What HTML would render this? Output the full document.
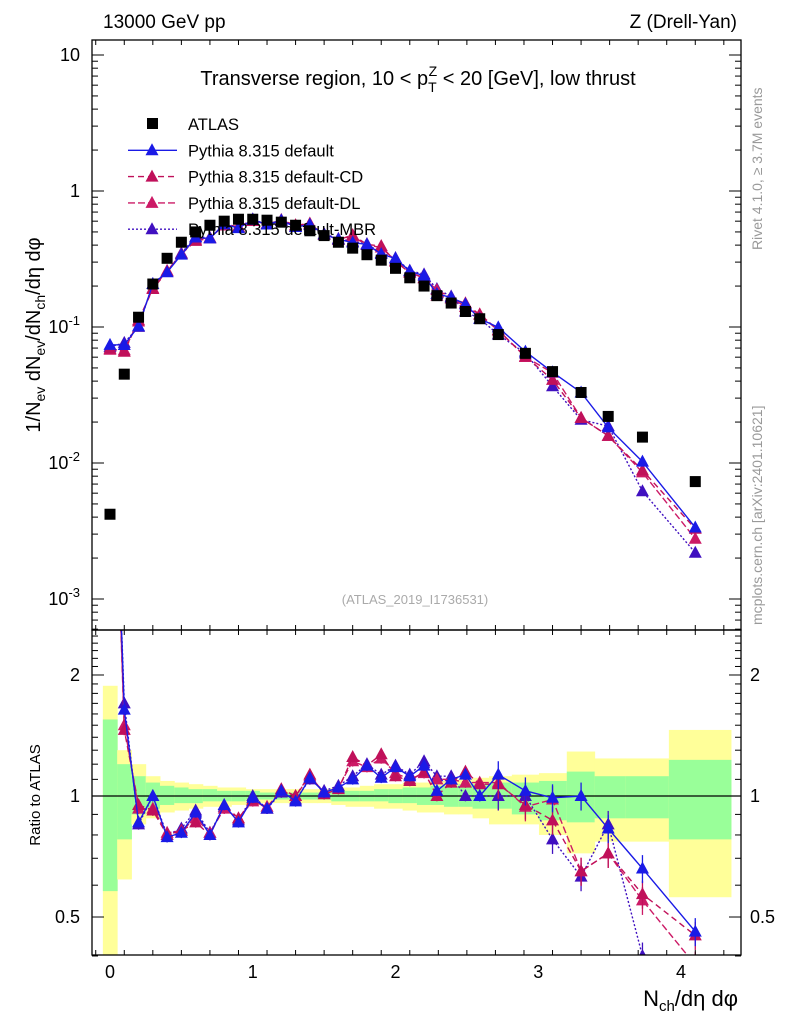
<!DOCTYPE html>
<html><head><meta charset="utf-8"><style>
body{margin:0;background:#fff;font-family:"Liberation Sans",sans-serif}
svg{display:block}
</style></head><body>
<svg id="chart" width="786" height="1024" viewBox="0 0 786 1024" xmlns="http://www.w3.org/2000/svg" font-family="Liberation Sans, sans-serif">
<text x="103" y="28" font-size="19">13000 GeV pp</text>
<text x="737" y="28" font-size="19" text-anchor="end">Z (Drell-Yan)</text>
<text x="418" y="85" font-size="20" text-anchor="middle">Transverse region, 10 &lt; p<tspan font-size="14" dy="7">T</tspan><tspan font-size="14" dx="-8" dy="-16">Z</tspan><tspan dy="9"> &lt; 20 [GeV], low thrust</tspan></text>
<text x="415" y="604" font-size="13" fill="#aaa" text-anchor="middle">(ATLAS_2019_I1736531)</text>
<text transform="translate(762,250) rotate(-90)" font-size="14" fill="#999">Rivet 4.1.0, ≥ 3.7M events</text>
<text transform="translate(762,625) rotate(-90)" font-size="14" fill="#999">mcplots.cern.ch [arXiv:2401.10621]</text>
<text transform="translate(40,335) rotate(-90)" font-size="20" text-anchor="middle">1/N<tspan font-size="14" dy="5">ev</tspan><tspan dy="-5"> dN</tspan><tspan font-size="14" dy="5">ev</tspan><tspan dy="-5">/dN</tspan><tspan font-size="14" dy="5">ch</tspan><tspan dy="-5">/dη dφ</tspan></text>
<text transform="translate(40,795) rotate(-90)" font-size="15" text-anchor="middle">Ratio to ATLAS</text>
<text x="738" y="1006" font-size="22" text-anchor="end">N<tspan font-size="15" dy="5">ch</tspan><tspan dy="-5">/dη dφ</tspan></text>
<g id="bands"></g><g id="ratio"></g><g id="main"></g><g id="axes"></g><g id="legend"></g>
</svg>
<script>
const xs=[0,0.1,0.2,0.3,0.4,0.5,0.6,0.7,0.8,0.9,1.0,1.1,1.2,1.3,1.4,1.5,1.6,1.7,1.8,1.9,2.0,2.1,2.2,2.29,2.39,2.49,2.59,2.72,2.91,3.1,3.3,3.49,3.73,4.1];
const atlas=[0.0042,0.045,0.118,0.207,0.32,0.42,0.50,0.56,0.60,0.62,0.62,0.61,0.59,0.56,0.51,0.47,0.42,0.38,0.34,0.31,0.27,0.23,0.20,0.17,0.15,0.13,0.115,0.088,0.064,0.047,0.033,0.022,0.0155,0.0073];
const rDefault=[17.6,1.64,0.86,1.0,0.79,0.81,0.91,0.80,0.95,0.86,0.99,0.93,1.03,0.97,1.11,1.02,1.05,1.1,1.19,1.11,1.18,1.12,1.19,1.03,1.1,1.13,1.0,1.13,1.03,0.99,1.0,0.83,0.66,0.46];
const rCD=[16.5,1.46,0.95,0.92,0.80,0.82,0.86,0.80,0.95,0.88,0.98,0.93,1.04,1.0,1.13,1.01,1.04,1.25,1.19,1.27,1.12,1.09,1.15,1.0,1.08,1.15,1.07,1.07,0.95,0.87,0.65,0.72,0.57,0.45];
const rDL=[16.2,1.5,0.93,0.93,0.81,0.82,0.88,0.81,0.93,0.88,0.97,0.94,1.03,1.0,1.12,1.02,1.05,1.22,1.18,1.24,1.14,1.1,1.14,1.1,1.1,1.08,1.08,1.08,0.94,0.98,0.65,0.72,0.55,0.38];
const rMBR=[17.0,1.7,0.85,1.0,0.8,0.83,0.92,0.81,0.94,0.87,1.0,0.93,1.02,0.98,1.1,1.03,1.06,1.12,1.2,1.13,1.19,1.13,1.22,1.12,1.12,1.0,1.0,1.0,1.0,0.78,0.63,0.85,0.40,0.3];
const greenLo=[0.58,0.78,0.9,0.93,0.95,0.96,0.96,0.97,0.97,0.97,0.98,0.98,0.98,0.98,0.98,0.98,0.97,0.97,0.97,0.97,0.96,0.96,0.95,0.95,0.94,0.94,0.93,0.93,0.9,0.87,0.86,0.88,0.88,0.78];
const greenHi=[1.55,1.2,1.12,1.08,1.06,1.05,1.04,1.04,1.03,1.03,1.03,1.02,1.02,1.02,1.02,1.02,1.03,1.03,1.03,1.04,1.04,1.05,1.05,1.06,1.06,1.07,1.07,1.08,1.08,1.09,1.15,1.12,1.12,1.23];
const yelLo=[0.3,0.62,0.85,0.88,0.91,0.92,0.93,0.94,0.94,0.95,0.95,0.96,0.96,0.96,0.96,0.96,0.95,0.94,0.94,0.93,0.93,0.92,0.91,0.91,0.9,0.9,0.88,0.85,0.85,0.8,0.72,0.77,0.77,0.56];
const yelHi=[1.88,1.3,1.2,1.12,1.09,1.08,1.07,1.06,1.05,1.05,1.04,1.04,1.04,1.04,1.04,1.04,1.05,1.05,1.06,1.07,1.07,1.08,1.08,1.09,1.1,1.1,1.11,1.12,1.13,1.14,1.29,1.24,1.24,1.46];
const xTicks=[0,1,2,3,4];
const mainTicks=[["10",1],["1",0],["10^-1",-1],["10^-2",-2],["10^-3",-3]];
const ratioTicks=[2,1,0.5];

const NS="http://www.w3.org/2000/svg";
const L=92,R=741,T=40,MB=630,RB=955;
const X=v=>110+(v)*142.75;
const Ym=v=>191-Math.log10(v)*136;
const Yr=v=>796-Math.log10(v)*402;
function mk(tag,attrs,parent){const e=document.createElementNS(NS,tag);for(const k in attrs)e.setAttribute(k,attrs[k]);parent.appendChild(e);return e;}
const gB=document.getElementById('bands'),gR=document.getElementById('ratio'),gM=document.getElementById('main'),gA=document.getElementById('axes'),gL=document.getElementById('legend');
const clipR=mk('clipPath',{id:'cr'},document.getElementById('chart'));mk('rect',{x:L,y:MB,width:R-L,height:RB-MB},clipR);
const clipM=mk('clipPath',{id:'cm'},document.getElementById('chart'));mk('rect',{x:L,y:T,width:R-L,height:MB-T},clipM);
gB.setAttribute('clip-path','url(#cr)');gR.setAttribute('clip-path','url(#cr)');gM.setAttribute('clip-path','url(#cm)');
const edges=[];for(let i=0;i<=xs.length;i++){if(i==0)edges.push(xs[0]-0.05);else if(i==xs.length)edges.push(4.35);else edges.push((xs[i-1]+xs[i])/2);}
for(let i=0;i<xs.length;i++){
 const y=mk('rect',{x:X(edges[i]),y:Yr(yelHi[i]),width:X(edges[i+1])-X(edges[i])+0.5,height:Yr(yelLo[i])-Yr(yelHi[i]),fill:'#ffff99'},gB);
 
 
 const g=mk('rect',{x:X(edges[i]),y:Yr(greenHi[i]),width:X(edges[i+1])-X(edges[i])+0.5,height:Yr(greenLo[i])-Yr(greenHi[i]),fill:'#99ff99'},gB);
 
 
}
const ref=mk('line',{x1:L,x2:R,y1:Yr(1),y2:Yr(1),stroke:'#000','stroke-width':1.3},gB);


const series=[
 {name:'default',r:rDefault,c:'#1a1ae6',d:''},
 {name:'default-cd',r:rCD,c:'#c0105a',d:'6,4'},
 {name:'default-dl',r:rDL,c:'#cc1a66',d:'7,3'},
 {name:'default-mbr',r:rMBR,c:'#4010c0',d:'2,2'}];
function tri(x,y,c,p,name){const t=mk('polygon',{points:`${x},${y-7} ${x-6.5},${y+5} ${x+6.5},${y+5}`,fill:c},p);}
for(let k=series.length-1;k>=0;k--){const s=series[k];
 let pm='',pr='';
 xs.forEach((x,i)=>{const v=atlas[i]*s.r[i];pm+=(i?'L':'M')+X(x)+','+Ym(v);pr+=(i?'L':'M')+X(x)+','+Yr(s.r[i]);});
 const lm=mk('path',{d:pm,fill:'none',stroke:s.c,'stroke-width':1.4,'stroke-dasharray':s.d},gM);
 
 
 const lr=mk('path',{d:pr,fill:'none',stroke:s.c,'stroke-width':1.4,'stroke-dasharray':s.d},gR);
 
 
 xs.forEach((x,i)=>{const v=atlas[i]*s.r[i];const e=x>2.6?0.08:0.03;
  mk('line',{x1:X(x),x2:X(x),y1:Yr(s.r[i]*(1+e)),y2:Yr(s.r[i]*(1-e)),stroke:s.c,'stroke-width':1.3},gR);
  tri(X(x),Ym(v),s.c,gM,'pythia-'+s.name+'-point');
  tri(X(x),Yr(s.r[i]),s.c,gR,'pythia-'+s.name+'-ratio-point');});
}
xs.forEach((x,i)=>{const r=mk('rect',{x:X(x)-5.5,y:Ym(atlas[i])-5.5,width:11,height:11,fill:'#000'},gM);
 
 });
for(const [y1,y2,n] of [[T,MB,'main-frame'],[MB,RB,'ratio-frame']]){const f=mk('rect',{x:L,y:y1,width:R-L,height:y2-y1,fill:'none',stroke:'#000','stroke-width':1.3},gA);
 }
for(let v=-0.1;v<=4.4;v+=0.2){const big=Math.abs(v-Math.round(v))<0.01;const len=big?10:5;const x=X(v);
 for(const [t,b] of [[T,MB],[MB,RB]]){mk('line',{x1:x,x2:x,y1:b,y2:b-len,stroke:'#000'},gA);mk('line',{x1:x,x2:x,y1:t,y2:t+len,stroke:'#000'},gA);}}
xTicks.forEach(v=>{const t=mk('text',{x:X(v),y:978,'font-size':18,'text-anchor':'middle'},gA);t.textContent=v;
 });
for(let d=-4;d<=1;d++)for(let m=1;m<10;m++){const v=m*Math.pow(10,d);const y=Ym(v);if(y<T||y>MB)continue;const len=m==1?12:6;
 mk('line',{x1:L,x2:L+len,y1:y,y2:y,stroke:'#000'},gA);mk('line',{x1:R,x2:R-len,y1:y,y2:y,stroke:'#000'},gA);}
mainTicks.forEach(([lab,e])=>{const y=Ym(Math.pow(10,e))+6;const t=mk('text',{x:80,y:y,'font-size':18,'text-anchor':'end'},gA);
 
 if(lab.includes('^')){const p=lab.split('^');t.textContent=p[0];const s=mk('tspan',{'font-size':13,dy:-8},t);s.textContent=p[1];}else t.textContent=lab;});
for(const v of [0.4,0.5,0.6,0.7,0.8,0.9,1,1.1,1.2,1.3,1.4,1.5,1.6,1.7,1.8,1.9,2,2.1,2.2,2.3,2.4,2.5]){const y=Yr(v);const len=(v==0.5||v==1||v==2)?12:6;
 mk('line',{x1:L,x2:L+len,y1:y,y2:y,stroke:'#000'},gA);mk('line',{x1:R,x2:R-len,y1:y,y2:y,stroke:'#000'},gA);}
ratioTicks.forEach(v=>{for(const [x,a] of [[80,'end'],[750,'start']]){const t=mk('text',{x:x,y:Yr(v)+6,'font-size':18,'text-anchor':a},gA);t.textContent=v;
 }});
const leg=[['ATLAS',null],['Pythia 8.315 default',series[0]],['Pythia 8.315 default-CD',series[1]],['Pythia 8.315 default-DL',series[2]],['Pythia 8.315 default-MBR',series[3]]];
leg.forEach(([lab,s],i)=>{const y=124+i*26.3;const g=mk('g',{},gL);
 
 if(!s)mk('rect',{x:147,y:y-6,width:11,height:11,fill:'#000'},g);
 else{mk('line',{x1:128,x2:177,y1:y,y2:y,stroke:s.c,'stroke-width':1.4,'stroke-dasharray':s.d},g);mk('polygon',{points:`152,${y-7} 145.5,${y+5} 158.5,${y+5}`,fill:s.c},g);}
 const t=mk('text',{x:188,y:y+6,'font-size':16.5},g);t.textContent=lab;});
</script>
</body></html>
